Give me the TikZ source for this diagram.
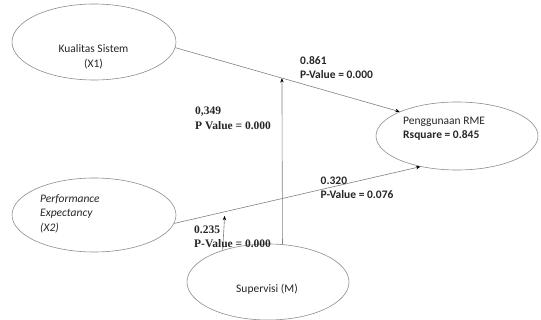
\documentclass[tikz,border=0pt]{standalone}
\usepackage{fontspec}
\setmainfont{Carlito}
\newfontfamily\timesf{Liberation Serif}
\usetikzlibrary{shapes.geometric,arrows.meta}
\definecolor{ovalgray}{HTML}{8C8C8C}
\definecolor{linegray}{HTML}{808080}
\definecolor{txt}{HTML}{262626}
\begin{document}
\begin{tikzpicture}[x=1pt,y=-1pt,
  oval/.style={draw=ovalgray, line width=0.6pt, ellipse, inner sep=0pt},
  lbl/.style={inner sep=0pt, anchor=base west, text=txt, font=\fontsize{11.5}{14}\selectfont},
  lblc/.style={lbl, anchor=base},
  ilbl/.style={lbl, font=\itshape\fontsize{11.5}{14}\selectfont},
  slbl/.style={lbl, font=\timesf\bfseries\fontsize{11.5}{14}\selectfont},
  link/.style={draw=linegray, line width=0.6pt, -{Stealth[length=4.5pt,width=3.5pt,color=black]}}]
\useasboundingbox (0,0) rectangle (541,320);
% ellipses
\node[oval, minimum width=164pt, minimum height=76pt] (x1) at (94,42) {};
\node[oval, minimum width=164pt, minimum height=74pt] (x2) at (94,215) {};
\node[oval, minimum width=162pt, minimum height=68pt] (y) at (457,136) {};
\node[oval, minimum width=162pt, minimum height=76pt] (m) at (268,282) {};
% texts in ellipses
\node[lblc] (x1a) at (93.5,53) {Kualitas Sistem};
\node[lblc] (x1b) at (93.5,68) {(X1)};
\node[ilbl] (x2a) at (40,203) {Performance};
\node[ilbl] (x2b) at (40,217) {Expectancy};
\node[ilbl] (x2c) at (40,232) {(X2)};
\node[lbl] (ya) at (403,125) {Penggunaan RME};
\node[lbl] (yb) at (403,138.5) {\bfseries Rsquare = 0.845};
\node[lblc] (ma) at (267,293) {Supervisi (M)};
% main paths
\draw[link] (x1.-4) -- coordinate[pos=0.475] (c1) (y.157);
\draw[link] (x2.-6) -- coordinate[pos=0.205, yshift=-4pt] (c2) (y.220);
% moderation
\draw[link] (m.69.5) -- (c1);
\draw[link] (m.145.3) -- (c2);
% path labels
\node[lbl] (l1a) at (300,65) {\bfseries 0.861};
\node[lbl] (l1b) at (300,79) {\bfseries P-Value = 0.000};
\node[slbl] (l2a) at (195,115) {0,349};
\node[slbl] (l2b) at (195,130) {P Value = 0.000};
\node[lbl] (l3a) at (320.5,185) {\bfseries 0.320};
\node[lbl] (l3b) at (320.5,199) {\bfseries P-Value = 0.076};
\node[slbl] (l4a) at (194,234) {0.235};
\node[slbl] (l4b) at (194,248) {P-Value = 0.000};
\end{tikzpicture}
\end{document}
